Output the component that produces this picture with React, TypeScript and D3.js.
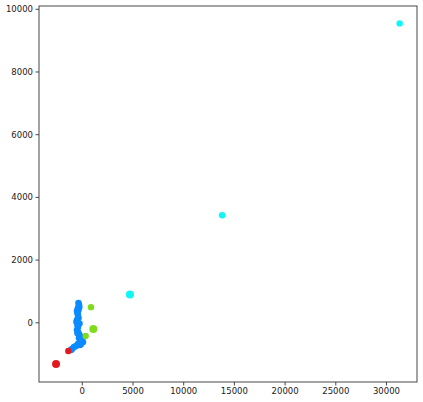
import React from 'react'
import * as d3 from 'd3'

// scatter values
const xValues = [
  -375, -325, -424, -375, -473, -424, -375, -523, -572, -473, -424, -523, -424, -325,
  -227, -325, -128, -30, -227, 69, -424, -621, -818, -1015, -1114, -227, -128,
  -300, -520, -280, -470,
  -2590, -1380,
  858, 1085, 335,
  4700, 13800, 31300
]
const yValues = [
  632, 568, 472, 408, 313, 249, 153, 89, 26, -70, -134, -230, -293, -357,
  -421, -485, -517, -549, -612, -612, -676, -740, -772, -836, -868, -708, -676,
  500, 380, -20, -330,
  -1310, -900,
  500, -200, -420,
  900, 3430, 9550
]
const groups = [
  'b', 'b', 'b', 'b', 'b', 'b', 'b', 'b', 'b', 'b', 'b', 'b', 'b', 'b',
  'b', 'b', 'b', 'b', 'b', 'b', 'b', 'b', 'b', 'b', 'b', 'b', 'b',
  'b', 'b', 'b', 'b',
  'r', 'r',
  'g', 'g', 'g',
  'c', 'c', 'c'
]
const sizes = [
  3.3, 3.3, 3.3, 3.3, 3.3, 3.3, 3.3, 3.3, 3.3, 3.3, 3.3, 3.3, 3.3, 3.3,
  3.3, 3.3, 3.3, 3.3, 3.3, 3.3, 3.3, 3.3, 3.3, 3.3, 3.3, 3.3, 3.3,
  3.3, 3.3, 3.3, 3.3,
  4, 3.2,
  3.2, 4, 3.2,
  4, 3.3, 3.2
]
const xTicks = [0, 5000, 10000, 15000, 20000, 25000, 30000]
const yTicks = [0, 2000, 4000, 6000, 8000, 10000]
const groupColors: Record<string, string> = {
  r: '#e3191d',
  b: '#0b8bff',
  g: '#7edc1c',
  c: '#10f6f6'
}

function App () {
  const width = 423
  const height = 402
  const left = 39
  const right = 417
  const top = 6
  const bottom = 382

  const x = d3.scaleLinear().domain([-4270, 33010]).range([left, right])
  const y = d3.scaleLinear().domain([-1888, 10105]).range([bottom, top])
  const font = 'DejaVu Sans, sans-serif'

  return (
    <div style={{ position: 'absolute', left: 0, top: 0 }}>
      <svg width={width} height={height} style={{ display: 'block', background: '#fff' }}>
        {xValues.map((v, i) => (
          <circle key={i} cx={x(v)} cy={y(yValues[i])} r={sizes[i]} fill={groupColors[groups[i]]} />
        ))}
        <rect x={left} y={top} width={right - left} height={bottom - top} fill='none' stroke='#333' strokeWidth={0.9} />
        {xTicks.map(t => (
          <g key={t} transform={`translate(${x(t)},${bottom})`}>
            <line y2={3.5} stroke='#333' strokeWidth={0.9} />
            <text y={6} dy='0.75em' textAnchor='middle' fontFamily={font} fontSize={8.5} fill='#1a1a1a'>{t}</text>
          </g>
        ))}
        {yTicks.map(t => (
          <g key={t} transform={`translate(${left},${y(t)})`}>
            <line x2={-3.5} stroke='#333' strokeWidth={0.9} />
            <text x={-6} dy='0.35em' textAnchor='end' fontFamily={font} fontSize={8.5} fill='#1a1a1a'>{t}</text>
          </g>
        ))}
      </svg>
    </div>
  )
}

export default App
